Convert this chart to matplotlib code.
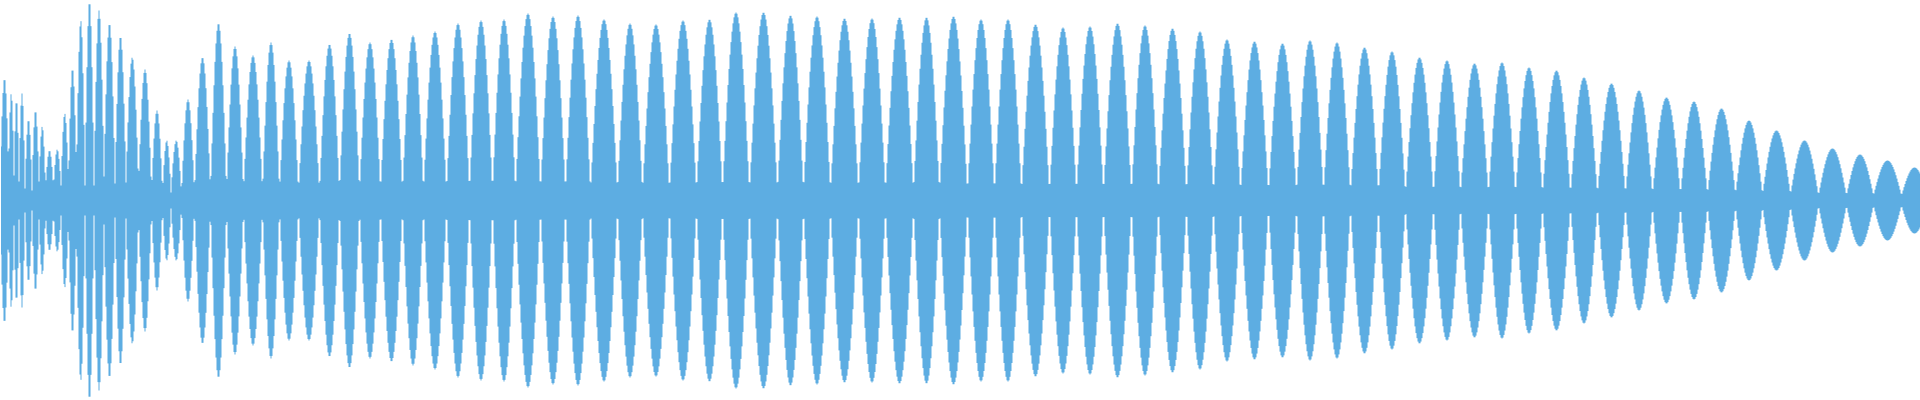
import numpy as np
import matplotlib
matplotlib.use("Agg")
import matplotlib.pyplot as plt

# Waveform: each lobe spans two trough positions
# (in pixel-column units along the time axis) and has a peak amplitude.
trough_x = [0, 8, 13.5, 18.5, 24.5, 31.5, 38.5, 45, 53, 60.5, 68, 76, 84.5, 93.5,
            103.5, 114.5, 125.5, 138, 151, 162, 170.5, 181, 194, 210, 226, 243,
            262, 279, 298, 319, 339, 359, 380, 402, 423, 446, 469, 492, 515, 540,
            565, 590, 617, 642, 669, 696, 722, 749, 777, 803, 830, 858, 885, 913,
            939, 967, 994, 1021, 1049, 1076, 1103, 1131, 1158, 1186, 1213, 1240,
            1268, 1296, 1323, 1350, 1378, 1405, 1433, 1460, 1488, 1515, 1542, 1570,
            1597, 1625, 1652, 1680, 1707, 1735, 1762, 1790, 1818, 1846, 1873, 1901,
            1927]
trough_amp = [38, 31, 25, 19, 12, 10, 19, 13, 13, 15, 17, 29, 15, 15,
              24, 17, 18, 16, 9, 8, 8, 6, 7, 8, 8, 8,
              8, 8, 8, 8, 8, 8, 8, 8, 8, 8, 8, 8, 8, 8,
              8, 8, 8, 8, 8, 8, 8, 8, 8, 8, 8, 8, 8, 8,
              8, 7, 7, 7, 7, 7, 7, 7, 7, 7, 7, 7,
              7, 7, 7, 7, 7, 6, 6, 6, 6, 6, 6, 6,
              6, 6, 6, 6, 6, 6, 6, 6, 5, 5, 5, 5,
              5]
lobe_amp = [122, 107, 101, 107, 81, 90, 74, 50, 51, 87, 132, 180, 199, 190,
            177, 164, 143, 131, 90, 60, 60, 101, 143, 177, 154, 145,
            158, 140, 140, 156, 167, 158, 161, 165, 169, 177, 180, 181, 187, 184,
            185, 181, 177, 176, 180, 181, 188, 188, 185, 184, 182, 182, 183, 183,
            184, 181, 181, 176, 173, 174, 177, 175, 172, 169, 161, 159,
            157, 160, 158, 153, 149, 143, 140, 137, 138, 133, 130, 123,
            117, 110, 103, 99, 92, 80, 70, 60, 52, 46, 40, 33]

COLOR = "#5DADE2"
W, H = 1920, 400

fig = plt.figure(figsize=(W / 100, H / 100), dpi=100)
ax = fig.add_axes([0, 0, 1, 1])
ax.set_axis_off()

cols = np.arange(W) + 0.5
tx = np.array(trough_x, dtype=float)
ta = np.array(trough_amp, dtype=float)
la = np.array(lobe_amp, dtype=float)

env = np.zeros_like(cols)
for i in range(len(la)):
    l, r = tx[i], tx[i + 1]
    m = (cols >= l) & (cols < r)
    s = (cols[m] - l) / (r - l)
    base = ta[i] + (ta[i + 1] - ta[i]) * s
    env[m] = base + (la[i] - base) * np.sin(np.pi * s)

ax.fill_between(cols, -env, env, step="mid", color=COLOR, linewidth=0)
ax.set_xlim(0, W)
ax.set_ylim(-H / 2, H / 2)

fig.savefig("out.png", dpi=100, facecolor="white")
